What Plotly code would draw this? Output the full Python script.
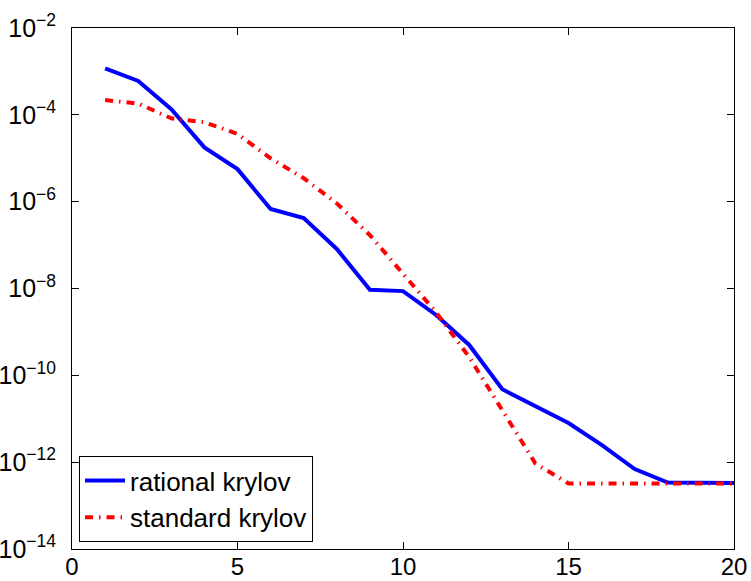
import plotly.graph_objects as go

iterations = list(range(1, 21))
rational_log10 = [-2.93, -3.22, -3.87, -4.75, -5.25, -6.17, -6.38, -7.09, -8.03, -8.06,
                  -8.61, -9.30, -10.32, -10.71, -11.10, -11.60, -12.16, -12.47, -12.48, -12.48]
standard_log10 = [-3.66, -3.74, -4.08, -4.17, -4.44, -5.00, -5.46, -6.04, -6.77, -7.65,
                  -8.55, -9.58, -10.80, -12.03, -12.49, -12.49, -12.49, -12.49, -12.49, -12.49]
rational = [10 ** v for v in rational_log10]
standard = [10 ** v for v in standard_log10]

x_ticks = [0, 5, 10, 15, 20]
y_exps = [-14, -12, -10, -8, -6, -4, -2]
y_ticks = [10 ** e for e in y_exps]
y_ticktext = ["10<sup>\u2212%d</sup>" % (-e) for e in y_exps]

font = "Liberation Sans, Arial, Helvetica, sans-serif"

fig = go.Figure()
fig.add_trace(go.Scatter(x=iterations, y=rational, mode="lines", name="rational krylov",
                         line=dict(color="#0000ff", width=4)))
fig.add_trace(go.Scatter(x=iterations, y=standard, mode="lines", name="standard krylov",
                         line=dict(color="#ff0000", width=4, dash="8px,6px,1.5px,6px")))

fig.update_layout(
    width=751, height=581,
    margin=dict(l=72, r=17, t=28, b=32),
    paper_bgcolor="white", plot_bgcolor="white",
    font=dict(family=font, size=24, color="black"),
    showlegend=True,
    legend=dict(x=0.0106, y=0.0134, xanchor="left", yanchor="bottom",
                bordercolor="black", borderwidth=1, bgcolor="white",
                font=dict(family=font, size=26, color="black"),
                tracegroupgap=0, itemwidth=40),
)
fig.update_xaxes(range=[0, 20], tickvals=x_ticks, ticktext=[str(t) for t in x_ticks],
                 ticks="inside", ticklen=7, tickcolor="black", showline=True,
                 linecolor="black", linewidth=1, mirror="ticks", showgrid=False,
                 zeroline=False, tickfont=dict(size=24), automargin=False,
                 ticklabelstandoff=-4)
fig.update_yaxes(type="log", range=[-14, -2], tickvals=y_ticks, ticktext=y_ticktext,
                 ticks="inside", ticklen=7, tickcolor="black", showline=True,
                 linecolor="black", linewidth=1, mirror="ticks", showgrid=False,
                 zeroline=False, tickfont=dict(size=25), automargin=False,
                 ticklabelstandoff=10)

fig.write_html("out.html")
